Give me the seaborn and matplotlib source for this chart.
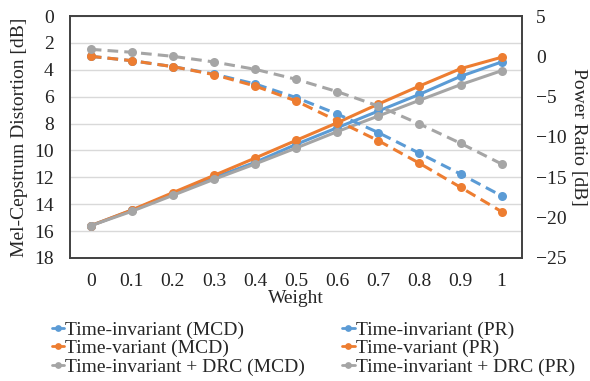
import seaborn as sns
from matplotlib import pyplot as plt
import pandas as pd

weight = [0, 0.1, 0.2, 0.3, 0.4, 0.5, 0.6, 0.7, 0.8, 0.9, 1]

# Mel-cepstrum distortion (left axis, inverted)
mcd_ti = [15.6, 14.45, 13.24, 12.03, 10.89, 9.55, 8.31, 7.07, 5.83, 4.49, 3.42]
mcd_tv = [15.6, 14.43, 13.14, 11.86, 10.57, 9.25, 7.94, 6.55, 5.21, 3.92, 3.07]
mcd_drc = [15.6, 14.53, 13.34, 12.15, 11.01, 9.82, 8.6, 7.44, 6.27, 5.11, 4.07]

# Power ratio (right axis)
pr_ti = [0.0, -0.54, -1.28, -2.2, -3.43, -5.12, -7.15, -9.46, -12.02, -14.6, -17.3]
pr_tv = [0.0, -0.54, -1.28, -2.27, -3.68, -5.54, -8.0, -10.46, -13.26, -16.24, -19.26]
pr_drc = [0.87, 0.5, 0.0, -0.7, -1.61, -2.85, -4.38, -6.16, -8.39, -10.78, -13.35]

names = ['Time-invariant', 'Time-variant', 'Time-invariant + DRC']
colors = ['#5B9BD5', '#ED7D31', '#A5A5A5']

mcd = pd.DataFrame({'Weight': weight * 3,
                    'value': mcd_ti + mcd_tv + mcd_drc,
                    'method': [n + ' (MCD)' for n in names for _ in weight]})
pr = pd.DataFrame({'Weight': weight * 3,
                   'value': pr_ti + pr_tv + pr_drc,
                   'method': [n + ' (PR)' for n in names for _ in weight]})

sns.set_theme(style='white')
plt.rcParams['font.family'] = ['Liberation Serif', 'DejaVu Serif']
fs = 14

fig = plt.figure(figsize=(5.9, 3.81), dpi=100)
ax = fig.add_axes([0.119, 0.323, 0.766, 0.635])
ax2 = ax.twinx()

sns.lineplot(data=mcd, x='Weight', y='value', hue='method', palette=colors,
             marker='o', markersize=6.5, markeredgewidth=0, linewidth=2.2, ax=ax, legend=False)
sns.lineplot(data=pr, x='Weight', y='value', hue='method', palette=colors,
             marker='o', markersize=6.5, markeredgewidth=0, linewidth=2.2, ax=ax2,
             legend=False, dashes=False)
for ln in ax2.get_lines():
    ln.set_linestyle((0, (3.5, 2)))

ax.set_ylim(18, 0)
ax.set_yticks(range(0, 19, 2))
ax2.set_ylim(-25, 5)
ax2.set_yticks(range(-25, 6, 5))
ax.set_xlim(-0.05, 1.05)
ax.set_xticks(weight)
ax.set_xticklabels(['0', '0.1', '0.2', '0.3', '0.4', '0.5', '0.6', '0.7', '0.8', '0.9', '1'])

ax.yaxis.grid(True, color='#D9D9D9', linewidth=1)
ax.set_axisbelow(True)
for a in (ax, ax2):
    for s in a.spines.values():
        s.set_color('#404040')
        s.set_linewidth(1.2)
    a.tick_params(labelsize=fs, length=0, colors='#222222', pad=12)
ax.tick_params(axis='x', pad=11)
ax2.tick_params(axis='y', pad=10)

ax.set_xlabel('Weight', fontsize=fs, labelpad=0)
ax.set_ylabel('Mel-Cepstrum Distortion [dB]', fontsize=fs, labelpad=4)
ax2.set_ylabel('Power Ratio [dB]', fontsize=fs, rotation=270, ha='center', va='center')
ax2.yaxis.set_label_coords(1.125, 0.5)

handles = ax.get_lines()[:3] + ax2.get_lines()[:3]
labels = list(mcd['method'].unique()) + list(pr['method'].unique())
leg = fig.legend(handles, labels, ncol=2, loc='upper left', bbox_to_anchor=(0.071, 0.183),
                 frameon=False, fontsize=fs, handlelength=0.65, handletextpad=0.05,
                 columnspacing=1.9, labelspacing=0.05, borderpad=0, markerscale=0.75)
for h in leg.legend_handles:
    h.set_linestyle('-')
    h.set_linewidth(2)

fig.savefig('out.png', dpi=100)
